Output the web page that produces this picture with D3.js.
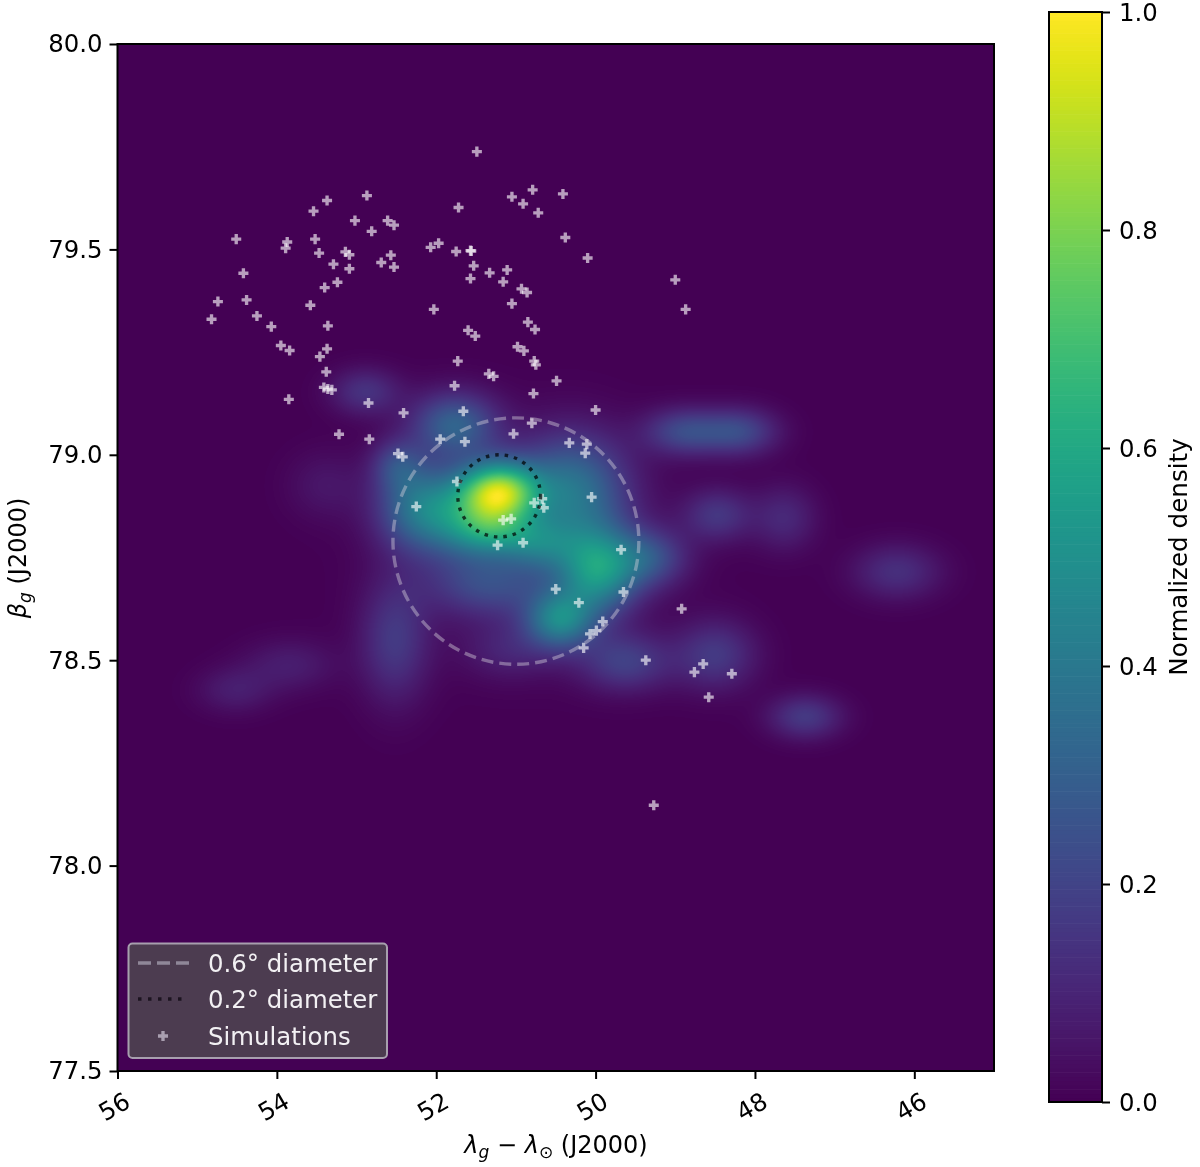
<!DOCTYPE html>
<html><head><meta charset="utf-8">
<script src="https://cdn.jsdelivr.net/npm/d3@7"></script>
<style>html,body{margin:0;padding:0;background:#fff}svg{display:block;filter:blur(.45px)}text{font-family:"DejaVu Sans",sans-serif}</style>
</head><body><svg id="c" width="1200" height="1167"></svg>
<script>
// --- ticks
const xTicks=[56,54,52,50,48,46];
const yTicks=[77.5,78,78.5,79,79.5,80];
const cTicks=[0,0.2,0.4,0.6,0.8,1];
// --- simulations
const simLon=[54.51,54.82,54.74,54.42,54.38,54.25,54.07,53.95,53.84,53.85,53.87,53.89,53.54,53.37,53.52,53.47,53.58,53.36,53.29,53.40,53.24,53.37,53.46,53.38,53.41,53.31,53.36,52.85,52.41,52.87,53.02,52.81,52.61,52.53,53.14,53.09,53.09,52.57,52.69,52.53,52.07,51.97,52.03,51.49,50.79,51.05,50.91,50.72,50.41,51.72,50.38,50.10,51.75,51.57,51.56,51.53,51.33,51.11,51.57,51.16,50.93,50.86,51.05,50.85,50.76,51.60,51.51,50.98,50.90,50.77,50.75,51.73,51.34,51.28,50.49,51.77,50.78,50.00,51.66,50.80,49.00,48.87,51.95,51.64,51.03,50.33,50.11,50.13,52.48,52.42,51.74,52.25,50.05,50.67,50.77,50.65,51.16,51.06,51.23,50.91,49.68,50.50,49.65,50.21,49.91,49.99,50.07,50.15,49.37,48.92,48.65,48.76,48.29,48.58,49.27,53.22,52.84];
const simLat=[79.525,79.330,79.373,79.442,79.377,79.338,79.312,79.266,79.254,79.135,79.518,79.503,79.593,79.619,79.525,79.491,79.364,79.314,79.464,79.407,79.420,79.258,79.239,79.202,79.164,79.158,79.160,79.126,79.102,79.631,79.570,79.544,79.570,79.559,79.494,79.487,79.453,79.486,79.468,79.457,79.505,79.515,79.354,79.738,79.645,79.628,79.611,79.589,79.635,79.602,79.529,79.479,79.495,79.497,79.496,79.460,79.443,79.450,79.429,79.421,79.404,79.395,79.368,79.323,79.305,79.303,79.289,79.263,79.253,79.228,79.219,79.228,79.197,79.191,79.180,79.168,79.149,79.109,79.106,79.077,79.426,79.354,79.038,79.032,79.051,79.029,79.026,79.004,79.003,78.995,78.935,78.874,78.897,78.893,78.883,78.871,78.841,78.844,78.780,78.786,78.769,78.673,78.666,78.640,78.594,78.572,78.564,78.530,78.500,78.625,78.491,78.471,78.467,78.410,78.147,79.050,79.038];
// --- density components
const kdeLon=[51.20,52.20,51.58,51.26,51.77,52.49,50.30,49.97,50.45,49.32,51.33,52.52,49.63,48.88,48.19,48.47,47.63,46.22,47.37,48.50,52.89,53.40,53.84,54.53,51.08,50.70,50.90];
const kdeLat=[78.909,78.870,78.853,78.812,79.073,78.975,78.914,78.720,78.598,78.749,78.683,78.549,78.496,79.056,79.056,78.853,78.846,78.715,78.362,78.513,79.153,78.926,78.488,78.427,78.525,78.780,78.780];
const kdeAmp=[.68,.33,.26,.25,.28,.16,.33,.46,.38,.20,.18,.15,.17,.20,.19,.14,.10,.12,.15,.15,.13,.05,.07,.07,.08,.20,.04];
const kdeSLon=[.339,.376,.376,.376,.376,.226,.477,.351,.301,.326,.527,.301,.402,.351,.326,.301,.276,.376,.314,.351,.301,.326,.402,.326,.402,.326,1.10];
const kdeSLat=[.051,.073,.073,.041,.054,.044,.093,.073,.049,.049,.054,.102,.049,.039,.039,.044,.054,.046,.037,.058,.039,.058,.044,.039,.049,.044,.170];
// --- circles
const circLon=[51.0,51.21], circLat=[78.79,78.90], circDiam=[0.6,0.2];
const legendLabels=["0.6° diameter","0.2° diameter","Simulations"];

const svg=d3.select("#c");
const L=117.5,R=994,T=44,B=1071;
const x=d3.scaleLinear().domain([56,45]).range([L,R]);
const y=d3.scaleLinear().domain([80,77.5]).range([T,B]);
const color=d3.scaleSequential(d3.interpolateViridis).domain([0,1]);

// density image
const W=Math.round(R-L),H=B-T;
const cv=document.createElement("canvas");cv.width=W;cv.height=H;
const ctx=cv.getContext("2d"),im=ctx.createImageData(W,H);
const vals=new Float64Array(W*H);let vmax=0;
for(let j=0;j<H;j++){const la=y.invert(T+j+.5);
 for(let i=0;i<W;i++){const lo=x.invert(L+i+.5);let s=0;
  for(let k=0;k<kdeLon.length;k++){const a=(lo-kdeLon[k])/kdeSLon[k],b=(la-kdeLat[k])/kdeSLat[k];s+=kdeAmp[k]*Math.exp(-.5*(a*a+b*b));}
  vals[j*W+i]=s;if(s>vmax)vmax=s;}}
let vmin=d3.min(vals);
for(let n=0;n<vals.length;n++){const c=d3.rgb(color((vals[n]-vmin)/(vmax-vmin)));im.data[4*n]=c.r;im.data[4*n+1]=c.g;im.data[4*n+2]=c.b;im.data[4*n+3]=255;}
ctx.putImageData(im,0,0);
svg.append("image").attr("x",L).attr("y",T).attr("width",W).attr("height",H).attr("href",cv.toDataURL());

// simulations
const plus=d3.symbol().type(d3.symbolCross).size(56);
svg.append("g").style("filter","blur(.45px)").selectAll("path").data(simLon).join("path")
 .attr("d",plus).attr("transform",(d,i)=>`translate(${x(d)},${y(simLat[i])})`)
 .attr("fill","#fff").attr("fill-opacity",.62);

// circles
const styles=[{s:"#d8d4de",o:.42,d:"12 6"},{s:"#000",o:.7,d:"3.5 6"}];
svg.append("g").selectAll("ellipse").data(circLon).join("ellipse")
 .attr("cx",d=>x(d)).attr("cy",(d,i)=>y(circLat[i]))
 .attr("rx",(d,i)=>Math.abs(x(d+circDiam[i]/2/Math.cos(circLat[i]*Math.PI/180))-x(d)))
 .attr("ry",(d,i)=>Math.abs(y(circLat[i]+circDiam[i]/2)-y(circLat[i])))
 .attr("fill","none").attr("stroke",(d,i)=>styles[i].s).attr("stroke-opacity",(d,i)=>styles[i].o)
 .attr("stroke-width",3.4).attr("stroke-dasharray",(d,i)=>styles[i].d);

// axes
const FS=24.4;
function style(g){g.selectAll("text").attr("font-size",FS).attr("fill","#000").attr("font-family","DejaVu Sans");
 g.selectAll("line").attr("stroke","#000").attr("stroke-width",2);g.select(".domain").remove();}
const gx=svg.append("g").attr("transform",`translate(0,${B})`).call(d3.axisBottom(x).tickValues(xTicks).tickFormat(d3.format("d")).tickSize(8)).call(style);
gx.selectAll("text").attr("text-anchor","middle").attr("dy",0).attr("y",0).attr("transform","translate(-3,37) rotate(-30)").attr("dominant-baseline","middle");
const gy=svg.append("g").attr("transform",`translate(${L},0)`).call(d3.axisLeft(y).tickValues(yTicks).tickFormat(d3.format(".1f")).tickSize(8).tickPadding(7)).call(style);
svg.append("rect").attr("x",L).attr("y",T).attr("width",R-L).attr("height",B-T).attr("fill","none").attr("stroke","#000").attr("stroke-width",2);

// axis labels
const xl=svg.append("text").attr("x",556).attr("y",1153).attr("text-anchor","middle").attr("font-size",24);
xl.append("tspan").attr("font-style","italic").text("λ");
xl.append("tspan").attr("font-style","italic").attr("font-size",17).attr("dy",5).text("g");
xl.append("tspan").attr("dy",-5).text(" − ");
xl.append("tspan").attr("font-style","italic").text("λ");
xl.append("tspan").attr("font-size",17).attr("dy",5).text("⊙");
xl.append("tspan").attr("dy",-5).text(" (J2000)");
const yl=svg.append("text").attr("transform","translate(26,558) rotate(-90)").attr("text-anchor","middle").attr("font-size",24);
yl.append("tspan").attr("font-style","italic").text("β");
yl.append("tspan").attr("font-style","italic").attr("font-size",17).attr("dy",5).text("g");
yl.append("tspan").attr("dy",-5).text(" (J2000)");

// legend
const lg=svg.append("g");
lg.append("rect").attr("x",128.5).attr("y",943.5).attr("width",258.5).attr("height",114.5).attr("rx",4)
 .attr("fill","#4c3c50").attr("stroke","#a79fae").attr("stroke-width",2);
const rowY=[963,999,1036];
lg.append("line").attr("x1",138).attr("x2",189).attr("y1",rowY[0]).attr("y2",rowY[0]).attr("stroke","#8f8798").attr("stroke-width",3.4).attr("stroke-dasharray","13 6");
lg.append("line").attr("x1",138).attr("x2",183).attr("y1",rowY[1]).attr("y2",rowY[1]).attr("stroke","#1c1420").attr("stroke-width",3.4).attr("stroke-dasharray","3.5 6.5");
lg.append("path").attr("d",plus).attr("transform",`translate(163,${rowY[2]})`).attr("fill","#a99fb0");
lg.selectAll("text").data(legendLabels).join("text").attr("x",208).attr("y",(d,i)=>rowY[i]+8.5)
 .attr("font-size",FS).attr("fill","#f2f0f3").text(d=>d);

// colorbar
const cy=d3.scaleLinear().domain([0,1]).range([1102,12]);
const CL=1049,CR=1102;
svg.append("g").selectAll("rect").data(d3.range(256)).join("rect")
 .attr("x",CL).attr("width",CR-CL).attr("y",d=>cy((d+1)/256)).attr("height",d=>cy(d/256)-cy((d+1)/256)+.6)
 .attr("fill",d=>color(d/255));
svg.append("rect").attr("x",CL).attr("y",12).attr("width",CR-CL).attr("height",1090).attr("fill","none").attr("stroke","#000").attr("stroke-width",2);
const gc=svg.append("g").attr("transform",`translate(${CR},0)`).call(d3.axisRight(cy).tickValues(cTicks).tickFormat(d3.format(".1f")).tickSize(8).tickPadding(9)).call(style);
gc.selectAll("text").attr("dy",".36em");
svg.append("text").attr("transform","translate(1187,557) rotate(-90)").attr("text-anchor","middle").attr("font-size",24.6).text("Normalized density");
</script></body></html>
